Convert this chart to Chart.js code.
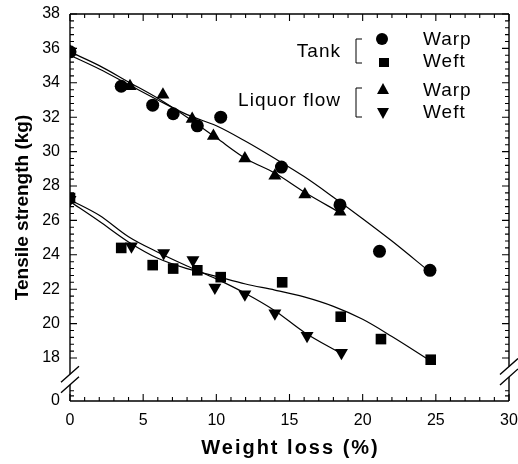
<!DOCTYPE html>
<html>
<head>
<meta charset="utf-8">
<script src="https://cdn.jsdelivr.net/npm/chart.js@4"></script>
<style>
  html, body { margin: 0; padding: 0; background: #fff; }
</style>
</head>
<body>
<canvas id="chart" width="518" height="464"></canvas>
<script>
// Tank, warp (circles)
const tankWarpX = [0, 3.5, 5.65, 7.05, 8.7, 10.3, 14.45, 18.45, 21.15, 24.6];
const tankWarpY = [35.8, 33.8, 32.7, 32.2, 31.5, 32.0, 29.1, 26.9, 24.2, 23.1];
// Tank, weft (squares)
const tankWeftX = [0, 3.5, 5.65, 7.05, 8.7, 10.3, 14.5, 18.5, 21.25, 24.65];
const tankWeftY = [27.3, 24.4, 23.4, 23.2, 23.1, 22.7, 22.4, 20.4, 19.1, 17.9];
// Liquor flow, warp (up triangles)
const liqWarpX = [0, 4.1, 6.35, 8.35, 9.8, 11.95, 14.0, 16.05, 18.45];
const liqWarpY = [35.8, 33.8, 33.3, 31.9, 30.9, 29.6, 28.6, 27.5, 26.5];
// Liquor flow, weft (down triangles)
const liqWeftX = [0, 4.2, 6.4, 8.4, 9.9, 11.95, 14.0, 16.2, 18.55];
const liqWeftY = [27.2, 24.5, 24.1, 23.7, 22.1, 21.7, 20.6, 19.3, 18.3];

// fitted curves
const tankWarpFitX = [0, 2, 4, 6, 8, 10, 12, 14, 16, 18, 20, 22, 24.6];
const tankWarpFitY = [35.6, 34.8, 33.9, 33.0, 32.15, 31.5, 30.6, 29.6, 28.55, 27.35, 26.1, 24.8, 23.0];
const liqWarpFitX = [0, 2, 4, 6, 8, 10, 12, 14, 16, 18.45];
const liqWarpFitY = [35.8, 35.0, 34.05, 33.1, 32.0, 30.8, 29.6, 28.75, 27.65, 26.45];
const tankWeftFitX = [0, 2, 4, 6, 8, 10, 12, 14, 16, 18, 20, 22, 24.6];
const tankWeftFitY = [27.1, 25.95, 24.75, 23.8, 23.2, 22.75, 22.3, 21.95, 21.55, 21.0, 20.25, 19.25, 17.85];
const liqWeftFitX = [0, 2, 4, 6, 8, 10, 12, 14, 16, 18.55];
const liqWeftFitY = [27.2, 26.3, 25.05, 24.15, 23.35, 22.6, 21.75, 20.75, 19.5, 18.25];

const yTicks = [15.5, 18, 20, 22, 24, 26, 28, 30, 32, 34, 36, 38];

function pts(xs, ys) {
  return xs.map((x, i) => ({ x: x, y: ys[i] }));
}

function marks(data, style, radius, rot) {
  return {
    data: data, showLine: false, order: 0,
    pointStyle: style, pointRadius: radius, pointHoverRadius: radius,
    pointRotation: rot || 0,
    pointBackgroundColor: "#000", pointBorderColor: "#000", pointBorderWidth: 0
  };
}

function fit(data) {
  return {
    data: data, showLine: true, order: 1,
    borderColor: "#000", borderWidth: 1.2, pointRadius: 0,
    cubicInterpolationMode: "monotone", fill: false
  };
}

const FONT = "'Liberation Sans', Arial, sans-serif";

// frame, inward ticks, axis breaks, x title and the bracket legend
const framePlugin = {
  id: "frame",
  afterDraw(chart) {
    const ctx = chart.ctx;
    const a = chart.chartArea;
    const sx = chart.scales.x, sy = chart.scales.y;
    ctx.save();
    ctx.strokeStyle = "#000";
    ctx.lineWidth = 1.4;

    const lb1 = sy.getPixelForValue(17.05), lb2 = sy.getPixelForValue(16.45);
    const rb1 = sy.getPixelForValue(17.5), rb2 = sy.getPixelForValue(16.9);

    ctx.beginPath();
    ctx.moveTo(a.left, a.top); ctx.lineTo(a.right, a.top);
    ctx.moveTo(a.left, a.bottom); ctx.lineTo(a.right, a.bottom);
    ctx.moveTo(a.left, a.top); ctx.lineTo(a.left, lb1);
    ctx.moveTo(a.left, lb2); ctx.lineTo(a.left, a.bottom);
    ctx.moveTo(a.right, a.top); ctx.lineTo(a.right, rb1);
    ctx.moveTo(a.right, rb2); ctx.lineTo(a.right, a.bottom);
    ctx.stroke();

    // break slashes
    ctx.beginPath();
    [[a.left, lb1], [a.left, lb2], [a.right, rb1], [a.right, rb2]].forEach(p => {
      ctx.moveTo(p[0] - 9, p[1] + 8);
      ctx.lineTo(p[0] + 9, p[1] - 8);
    });
    ctx.stroke();

    // x ticks
    ctx.lineWidth = 1.1;
    ctx.beginPath();
    for (let v = 0; v <= 30; v++) {
      const px = sx.getPixelForValue(v);
      const len = v % 5 === 0 ? 7 : 4;
      ctx.moveTo(px, a.bottom); ctx.lineTo(px, a.bottom - len);
      ctx.moveTo(px, a.top); ctx.lineTo(px, a.top + len);
    }
    // y ticks
    for (let i = 0; i <= 50; i++) {
      const v = 18 + i * 0.4;
      const py = sy.getPixelForValue(v);
      const major = Math.abs(v - Math.round(v)) < 0.01 && Math.round(v) % 2 === 0;
      const len = major ? 7 : 4;
      ctx.moveTo(a.left, py); ctx.lineTo(a.left + len, py);
      ctx.moveTo(a.right, py); ctx.lineTo(a.right - len, py);
    }
    [15.8, 16.1].forEach(v => {
      const py = sy.getPixelForValue(v);
      ctx.moveTo(a.left, py); ctx.lineTo(a.left + 4, py);
      ctx.moveTo(a.right, py); ctx.lineTo(a.right - 4, py);
    });
    ctx.stroke();

    ctx.fillStyle = "#000";
    ctx.textBaseline = "middle";

    // x axis title (spaced out like the original)
    ctx.font = "bold 20px " + FONT;
    ctx.letterSpacing = "2px";
    ctx.textAlign = "center";
    ctx.fillText("Weight loss (%)", (a.left + a.right) / 2 + 1, 448);

    // legend
    ctx.font = "19px " + FONT;
    ctx.letterSpacing = "1px";
    ctx.textAlign = "right";
    ctx.fillText("Tank", 341, 52);
    ctx.fillText("Liquor flow", 341, 101);
    ctx.textAlign = "left";
    ctx.fillText("Warp", 423, 40);
    ctx.fillText("Weft", 423, 62);
    ctx.fillText("Warp", 423, 91);
    ctx.fillText("Weft", 423, 113);
    ctx.letterSpacing = "0px";

    ctx.lineWidth = 1;
    ctx.beginPath();
    ctx.moveTo(362, 39); ctx.lineTo(356, 39); ctx.lineTo(356, 63); ctx.lineTo(362, 63);
    ctx.moveTo(362, 88); ctx.lineTo(356, 88); ctx.lineTo(356, 117); ctx.lineTo(362, 117);
    ctx.stroke();

    ctx.beginPath();
    ctx.arc(382, 39, 6, 0, Math.PI * 2);
    ctx.fill();
    ctx.fillRect(379, 58, 10, 9);
    ctx.beginPath();
    ctx.moveTo(383, 83); ctx.lineTo(389, 94); ctx.lineTo(377, 94); ctx.closePath();
    ctx.fill();
    ctx.beginPath();
    ctx.moveTo(377, 108); ctx.lineTo(389, 108); ctx.lineTo(383, 119); ctx.closePath();
    ctx.fill();
    ctx.restore();
  }
};

Chart.defaults.font.family = FONT;
Chart.defaults.color = "#000";

new Chart(document.getElementById("chart"), {
  type: "scatter",
  data: {
    datasets: [
      marks(pts(tankWarpX, tankWarpY), "circle", 6.5),
      marks(pts(tankWeftX, tankWeftY), "rect", 7.5),
      marks(pts(liqWarpX, liqWarpY), "triangle", 7.5),
      marks(pts(liqWeftX, liqWeftY), "triangle", 7.5, 180),
      fit(pts(tankWarpFitX, tankWarpFitY)),
      fit(pts(liqWarpFitX, liqWarpFitY)),
      fit(pts(tankWeftFitX, tankWeftFitY)),
      fit(pts(liqWeftFitX, liqWeftFitY))
    ]
  },
  options: {
    responsive: false,
    animation: false,
    devicePixelRatio: 1,
    layout: { padding: { top: 14, right: 9, left: 0, bottom: 0 } },
    plugins: { legend: { display: false }, tooltip: { enabled: false } },
    scales: {
      x: {
        type: "linear", min: 0, max: 30,
        grid: { display: false, drawTicks: false },
        border: { display: false },
        ticks: { stepSize: 5, padding: 10, font: { size: 16 }, maxRotation: 0 },
        afterFit: s => { s.height = 63; s.paddingLeft = 0; s.paddingRight = 0; }
      },
      y: {
        type: "linear", min: 15.5, max: 38,
        grid: { display: false, drawTicks: false },
        border: { display: false },
        afterBuildTicks: s => { s.ticks = yTicks.map(v => ({ value: v })); },
        ticks: {
          padding: 10, font: { size: 16 },
          callback: v => (v < 17 ? "0" : v)
        },
        title: {
          display: true, text: "Tensile strength (kg)",
          font: { size: 19, weight: "bold" }, padding: { top: 11, bottom: 0 }
        },
        afterFit: s => { s.width = 70; s.paddingTop = 0; s.paddingBottom = 0; }
      }
    }
  },
  plugins: [framePlugin]
});
</script>
</body>
</html>
